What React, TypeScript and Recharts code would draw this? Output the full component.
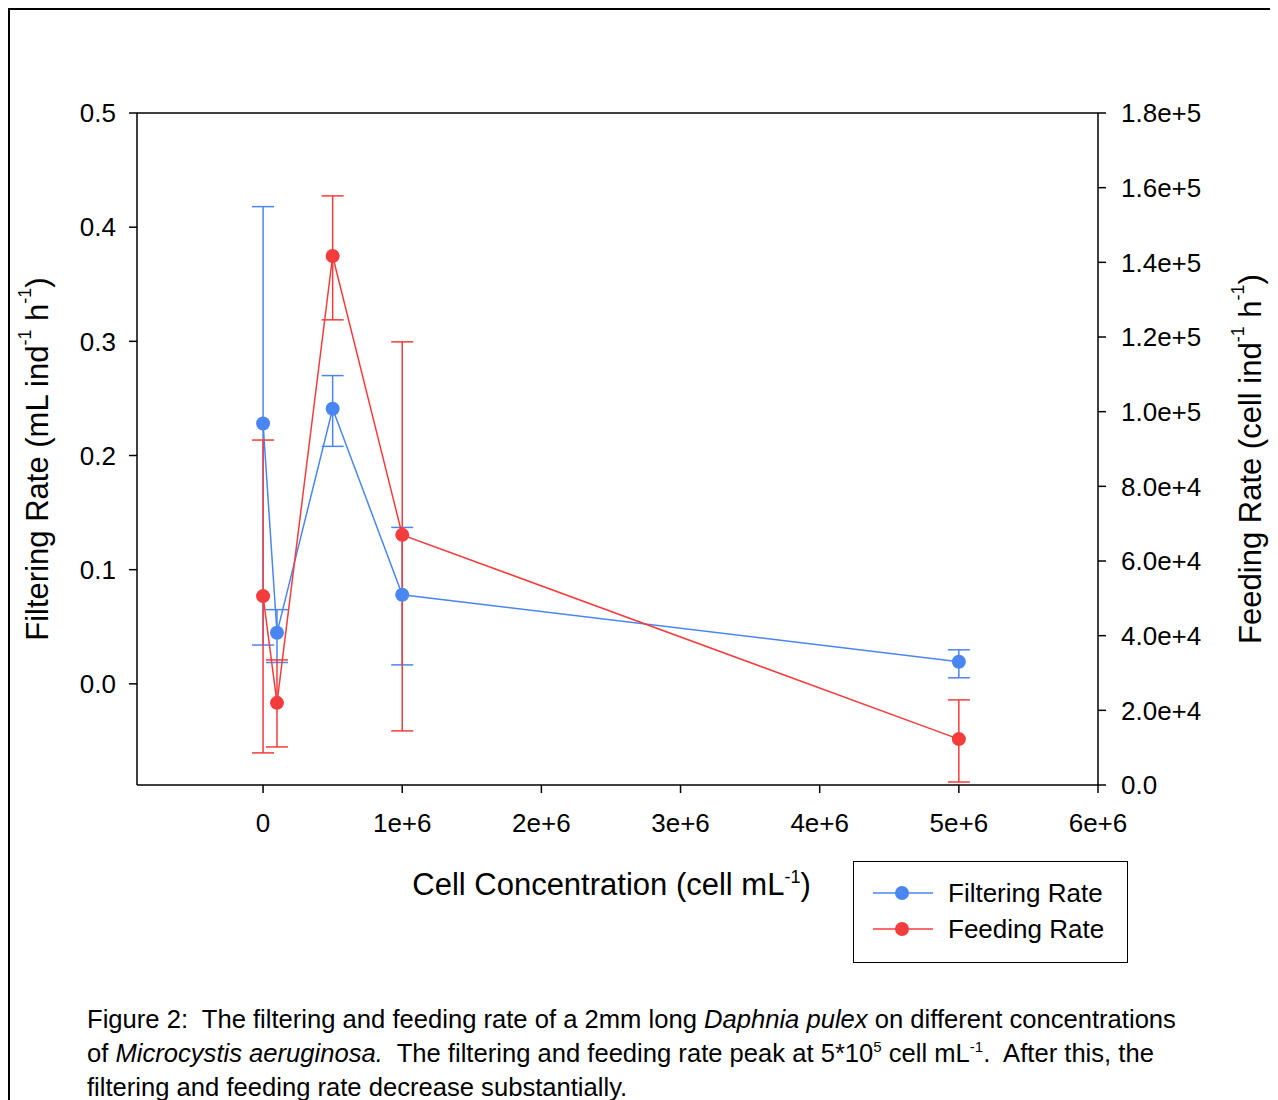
import React from "react";
import {
  ComposedChart,
  Line,
  XAxis,
  YAxis,
  ErrorBar,
  Label,
  ReferenceLine,
} from "recharts";

const concentrations = [0, 1e5, 5e5, 1e6, 5e6];
const filtering = [0.228, 0.0447, 0.241, 0.078, 0.0193];
const filteringLow = [0.034, 0.0187, 0.208, 0.0166, 0.0053];
const filteringHigh = [0.418, 0.065, 0.27, 0.137, 0.0298];
const feeding = [50600, 22000, 141700, 67000, 12300];
const feedingLow = [8600, 10200, 124600, 14500, 800];
const feedingHigh = [92400, 33500, 157800, 118700, 22800];

const xTicks = [0, 1e6, 2e6, 3e6, 4e6, 5e6, 6e6];
const leftTicks = [0, 0.1, 0.2, 0.3, 0.4, 0.5];
const rightTicks = [0, 2e4, 4e4, 6e4, 8e4, 1e5, 1.2e5, 1.4e5, 1.6e5, 1.8e5];

const BLUE = "#4a86f2";
const RED = "#f43c3c";
const FONT = "'Liberation Sans', Arial, Helvetica, sans-serif";

const data = concentrations.map((c, i) => ({
  conc: c,
  filtering: filtering[i],
  filtErr: [filtering[i] - filteringLow[i], filteringHigh[i] - filtering[i]],
  feeding: feeding[i],
  feedErr: [feeding[i] - feedingLow[i], feedingHigh[i] - feeding[i]],
}));

const tickStyle = { fill: "#000", fontSize: 26, fontFamily: FONT };

// eslint-disable-next-line @typescript-eslint/no-explicit-any
const sideLabel = (offsetX: number, main: string, unit: string) => (props: any) => {
  const vb = props.viewBox;
  const cx = vb.x + offsetX;
  const cy = vb.y + vb.height / 2 + 10;
  return (
    <text
      x={cx}
      y={cy}
      transform={`rotate(-90 ${cx} ${cy})`}
      textAnchor="middle"
      dominantBaseline="central"
      fontSize={31}
      fontFamily={FONT}
      fill="#000"
    >
      {main} ({unit} ind
      <tspan fontSize={18} dy={-12}>-1</tspan>
      <tspan dy={12}> h</tspan>
      <tspan fontSize={18} dy={-12}>-1</tspan>
      <tspan dy={12}>)</tspan>
    </text>
  );
};

// eslint-disable-next-line @typescript-eslint/no-explicit-any
const xLabel = (props: any) => {
  const vb = props.viewBox;
  return (
    <text
      x={vb.x + vb.width / 2 - 6}
      y={vb.y + 110}
      textAnchor="middle"
      fontSize={31}
      fontFamily={FONT}
      fill="#000"
    >
      Cell Concentration (cell mL
      <tspan fontSize={18} dy={-12}>-1</tspan>
      <tspan dy={12}>)</tspan>
    </text>
  );
};

const legendItems = [
  { name: "Filtering Rate", color: BLUE },
  { name: "Feeding Rate", color: RED },
];

const sup = { fontSize: 15, verticalAlign: "super", lineHeight: 0 } as const;

export default function App() {
  return (
    <div
      style={{
        position: "relative",
        width: 1264,
        height: 1100,
        border: "2px solid #000",
        boxSizing: "border-box",
        background: "#fff",
        fontFamily: FONT,
      }}
    >
      <ComposedChart
        width={1260}
        height={1000}
        data={data}
        margin={{ top: 103, right: 0, bottom: 165, left: 0 }}
      >
        <XAxis
          dataKey="conc"
          type="number"
          domain={[-906000, 6000000]}
          ticks={xTicks}
          allowDataOverflow
          tickFormatter={(v: number) => (v === 0 ? "0" : v.toExponential(0))}
          tick={tickStyle}
          tickSize={8}
          tickMargin={21}
          height={60}
          stroke="#000"
          strokeWidth={1.5}
        >
          <Label content={xLabel} />
        </XAxis>
        <YAxis
          yAxisId="left"
          domain={[-0.0886, 0.5]}
          ticks={leftTicks}
          allowDataOverflow
          tickFormatter={(v: number) => v.toFixed(1)}
          tick={tickStyle}
          tickSize={8}
          tickMargin={13}
          width={127}
          stroke="#000"
          strokeWidth={1.5}
        >
          <Label content={sideLabel(27, "Filtering Rate", "mL")} />
        </YAxis>
        <YAxis
          yAxisId="right"
          orientation="right"
          domain={[0, 180000]}
          ticks={rightTicks}
          allowDataOverflow
          tickFormatter={(v: number) => (v === 0 ? "0.0" : v.toExponential(1))}
          tick={tickStyle}
          tickSize={8}
          tickMargin={15}
          width={172}
          stroke="#000"
          strokeWidth={1.5}
        >
          <Label content={sideLabel(152, "Feeding Rate", "cell")} />
        </YAxis>
        <ReferenceLine yAxisId="left" y={0.5} stroke="#000" strokeWidth={1.5} />
        <Line
          yAxisId="left"
          dataKey="filtering"
          type="linear"
          stroke={BLUE}
          strokeWidth={1.5}
          dot={{ r: 7, fill: BLUE, stroke: BLUE, strokeWidth: 0 }}
          isAnimationActive={false}
        >
          <ErrorBar dataKey="filtErr" direction="y" width={11} stroke={BLUE} strokeWidth={1.5} />
        </Line>
        <Line
          yAxisId="right"
          dataKey="feeding"
          type="linear"
          stroke={RED}
          strokeWidth={1.5}
          dot={{ r: 7, fill: RED, stroke: RED, strokeWidth: 0 }}
          isAnimationActive={false}
        >
          <ErrorBar dataKey="feedErr" direction="y" width={11} stroke={RED} strokeWidth={1.5} />
        </Line>
      </ComposedChart>

      <div
        style={{
          position: "absolute",
          left: 843,
          top: 851,
          width: 275,
          height: 102,
          border: "1.5px solid #000",
          background: "#fff",
          fontSize: 26,
          boxSizing: "border-box",
        }}
      >
        {legendItems.map((it, i) => (
          <div
            key={it.name}
            style={{ display: "flex", alignItems: "center", height: 36, marginTop: i === 0 ? 13 : 0 }}
          >
            <svg width={76} height={20} style={{ marginLeft: 18 }}>
              <line x1={1} y1={10} x2={61} y2={10} stroke={it.color} strokeWidth={1.5} />
              <circle cx={30} cy={10} r={7} fill={it.color} />
            </svg>
            <span>{it.name}</span>
          </div>
        ))}
      </div>

      <div
        style={{
          position: "absolute",
          left: 77,
          top: 992,
          width: 1150,
          fontSize: 25.6,
          lineHeight: "34px",
          color: "#000",
          whiteSpace: "nowrap",
        }}
      >
        <div>
          Figure 2:&nbsp; The filtering and feeding rate of a 2mm long <i>Daphnia pulex</i> on different concentrations
        </div>
        <div>
          of <i>Microcystis aeruginosa.</i>&nbsp; The filtering and feeding rate peak at 5*10<span style={sup}>5</span> cell
          mL<span style={sup}>-1</span>.&nbsp; After this, the
        </div>
        <div>filtering and feeding rate decrease substantially.</div>
      </div>
    </div>
  );
}
